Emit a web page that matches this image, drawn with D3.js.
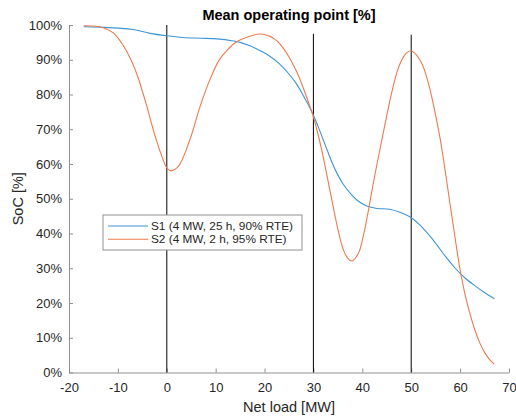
<!DOCTYPE html>
<html>
<head>
<meta charset="utf-8">
<script src="https://cdn.jsdelivr.net/npm/d3@7"></script>
<style>
  html, body { margin: 0; padding: 0; background: #fff; }
  svg { display: block; font-family: "Liberation Sans", Arial, sans-serif; }
</style>
</head>
<body>
<svg id="chart" width="516" height="419"></svg>
<script>
// S1: long-duration storage, state of charge vs. net load
const s1Load = [-17, -13.7, -10, -6.9, -3.4, 0, 3.3, 7, 10.3, 13.6, 15, 17, 19.1, 21, 23, 25, 26.6, 28, 29, 30, 31, 32, 33, 34, 35, 36, 37.5, 39, 40.9, 43, 45.6, 47.7, 49.7, 51.8, 54.5, 57, 59, 61, 63, 65, 67];
const s1Soc  = [99.5, 99.4, 99.1, 98.7, 97.6, 96.9, 96.4, 96.2, 96.0, 95.4, 95.0, 94.0, 92.6, 91.1, 88.9, 85.9, 82.9, 79.5, 76.9, 74.0, 70.6, 67.0, 63.3, 59.8, 56.8, 54.4, 51.6, 49.5, 47.9, 47.2, 47.0, 46.1, 44.8, 42.4, 38.1, 33.4, 30.0, 27.2, 25.0, 23.0, 21.2];

// S2: short-duration storage
const s2Load = [-17, -15, -13, -11, -10, -9, -8, -7, -6, -5, -4, -3, -2, -1, 0, 0.8, 2.4, 4.7, 6.8, 8.8, 10.7, 12.5, 14.3, 19.1, 21, 22, 23, 24, 25, 26, 27, 28, 29, 30, 31, 32, 33, 34, 35, 36, 37, 37.8, 39.2, 40.2, 41.2, 42, 43, 44, 45, 46, 47, 48, 49, 49.9, 51, 52, 53, 54, 55, 56, 57, 58, 59, 60, 61, 62, 63, 64, 65, 66, 67];
const s2Soc  = [99.8, 99.7, 99.2, 97.8, 96.3, 94.3, 91.9, 89.0, 85.4, 81.0, 76.2, 71.0, 66.3, 62.2, 58.9, 58.1, 59.4, 66.9, 76.5, 84.2, 89.9, 93.0, 95.2, 97.4, 96.8, 96.0, 94.8, 93.0, 90.8, 88.2, 85.2, 81.6, 77.7, 73.5, 68.2, 62.0, 55.0, 48.0, 41.2, 35.8, 32.9, 32.1, 34.3, 39.3, 46.3, 52.6, 60.0, 67.0, 74.0, 80.5, 86.0, 89.8, 91.9, 92.6, 91.5, 89.4, 85.8, 80.5, 74.0, 66.6, 57.5, 47.9, 38.5, 29.5, 22.5, 17.0, 12.3, 8.6, 5.8, 3.8, 2.4];

const seriesNames = ["S1 (4 MW, 25 h, 90% RTE)", "S2 (4 MW, 2 h, 95% RTE)"];
const seriesColors = ["#3d95d5", "#ee7a4e"];

// Reference markers: vertical lines at selected net loads (x, top SoC)
const markerLoad = [0, 30, 50];
const markerTop  = [100, 97.5, 97.2];

const xTicks = [-20, -10, 0, 10, 20, 30, 40, 50, 60, 70];
const yTicks = [0, 10, 20, 30, 40, 50, 60, 70, 80, 90, 100];

const svg = d3.select("#chart");
const margin = { left: 69, right: 7, top: 25, bottom: 46.5 };
const W = 516, H = 419;

const x = d3.scaleLinear().domain([-20, 70]).range([margin.left, W - margin.right]);
const y = d3.scaleLinear().domain([0, 100]).range([H - margin.bottom, margin.top]);

const axisColor = "#8f8f8f";
const textColor = "#262626";

// X axis (ticks point inward, plain hyphen for negatives)
const gx = svg.append("g")
  .attr("transform", `translate(0,${y(0)})`)
  .call(d3.axisBottom(x).tickValues(xTicks).tickFormat(d => String(d))
    .tickSizeInner(-4).tickSizeOuter(0).tickPadding(10));
gx.select(".domain").attr("stroke", axisColor);
gx.selectAll(".tick line").attr("stroke", axisColor);
gx.selectAll(".tick text").attr("fill", textColor).attr("font-size", 13);

// Y axis
const gy = svg.append("g")
  .attr("transform", `translate(${x(-20)},0)`)
  .call(d3.axisLeft(y).tickValues(yTicks).tickFormat(d => d + "%")
    .tickSizeInner(-4).tickSizeOuter(0).tickPadding(7));
gy.select(".domain").attr("stroke", axisColor);
gy.selectAll(".tick line").attr("stroke", axisColor);
gy.selectAll(".tick text").attr("fill", textColor).attr("font-size", 13);

// Vertical markers
svg.append("g").selectAll("line")
  .data(markerLoad.map((d, i) => ({ load: d, top: markerTop[i] })))
  .join("line")
  .attr("x1", d => x(d.load)).attr("x2", d => x(d.load))
  .attr("y1", y(0)).attr("y2", d => y(d.top))
  .attr("stroke", "#1a1a1a").attr("stroke-width", 1.1);

// Curves
const line = d3.line().x(d => x(d[0])).y(d => y(d[1])).curve(d3.curveCatmullRom.alpha(0.5));
const series = [
  s1Load.map((v, i) => [v, s1Soc[i]]),
  s2Load.map((v, i) => [v, s2Soc[i]])
];
svg.append("g").selectAll("path")
  .data(series)
  .join("path")
  .attr("d", line)
  .attr("fill", "none")
  .attr("stroke", (d, i) => seriesColors[i])
  .attr("stroke-width", 1.1);

// Title and axis labels
svg.append("text")
  .attr("x", (x(-20) + x(70)) / 2).attr("y", 20)
  .attr("text-anchor", "middle").attr("font-size", 14.5).attr("font-weight", "bold")
  .attr("fill", "#000").text("Mean operating point [%]");

svg.append("text")
  .attr("x", (x(-20) + x(70)) / 2).attr("y", 412)
  .attr("text-anchor", "middle").attr("font-size", 14.5)
  .attr("fill", textColor).text("Net load [MW]");

svg.append("text")
  .attr("transform", `translate(23,${(y(0) + y(100)) / 2}) rotate(-90)`)
  .attr("text-anchor", "middle").attr("font-size", 14.5)
  .attr("fill", textColor).text("SoC [%]");

// Legend
const lg = svg.append("g").attr("transform", "translate(103,215)");
lg.append("rect").attr("width", 199).attr("height", 35)
  .attr("fill", "#fff").attr("stroke", "#8f8f8f").attr("stroke-width", 1);
seriesNames.forEach((name, i) => {
  const yy = 11 + i * 13.3;
  lg.append("line").attr("x1", 5).attr("x2", 45).attr("y1", yy).attr("y2", yy)
    .attr("stroke", seriesColors[i]).attr("stroke-width", 1.1);
  lg.append("text").attr("x", 48).attr("y", yy).attr("dy", "0.35em")
    .attr("font-size", 11.8).attr("fill", textColor).text(name);
});
</script>
</body>
</html>
